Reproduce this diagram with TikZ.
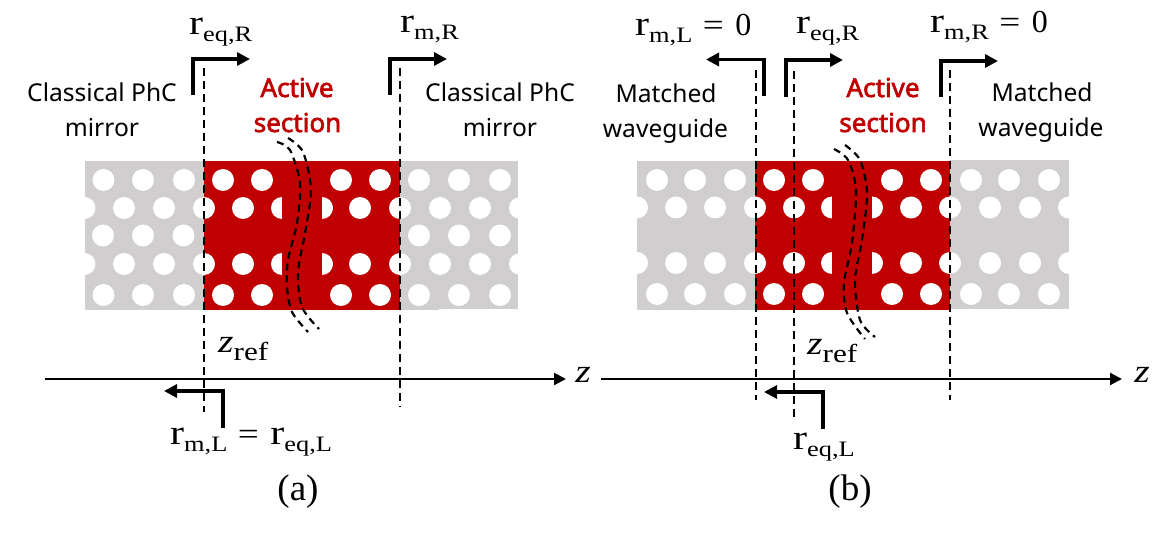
\documentclass[tikz,border=0pt]{standalone}
\usepackage{fontspec}
\setmainfont{Liberation Serif}
\newfontfamily\lblf{Noto Sans}
\newfontfamily\actf[FakeBold=2.4]{Noto Sans}
\newfontfamily\mathf[FakeStretch=1.2]{Liberation Serif}
\usetikzlibrary{arrows.meta}
\definecolor{phcgrey}{HTML}{D0CECE}
\definecolor{phcred}{HTML}{C00000}
\newcommand{\rsym}[1]{{\mathf\fontsize{35}{35}\selectfont r\raisebox{-7pt}{\fontsize{22}{22}\selectfont #1}}}
\newcommand{\eqs}{{\mathf\fontsize{31}{31}\selectfont\hspace{10.5pt}=\hspace{11.5pt}}}
\newcommand{\zero}{{\fontsize{32}{32}\selectfont 0}}
\newcommand{\zsym}{{\mathf\fontsize{33}{33}\selectfont\itshape z}}
\newcommand{\zref}{{\mathf\fontsize{33}{33}\selectfont\itshape z\upshape\raisebox{-8pt}{\fontsize{26}{26}\selectfont ref}}}
\tikzset{
  lbl/.style={inner sep=0pt,anchor=base west},
  sans/.style={inner sep=0pt,anchor=base,font=\lblf\fontsize{24.6}{24.6}\selectfont},
  act/.style={inner sep=0pt,anchor=base,text=phcred,font=\actf\fontsize{26}{26}\selectfont},
  captxt/.style={inner sep=0pt,anchor=base,font=\fontsize{37}{37}\selectfont},
  vdash/.style={line width=2.3pt,dash pattern=on 8pt off 5pt},
  wavy/.style={line width=2.2pt,dash pattern=on 7pt off 5pt},
  elbow/.style={line width=3.5pt,-{Triangle[length=13pt,width=13pt]}},
  axisline/.style={line width=2.2pt,-{Triangle[length=12pt,width=12pt]}},
  hole/.style={fill=white,draw=none}
}
\begin{document}
\begin{tikzpicture}[x=1pt,y=-1pt]
\useasboundingbox (0,0) rectangle (1159,534);
% panel (a) slab
\fill[phcgrey] (85,161) rectangle (204,310);
\fill[phcgrey] (400,161) rectangle (518,309);
\fill[phcgrey] (400,309) rectangle (439,310);
\fill[phcred] (204,161) rectangle (400,310);
\foreach \y in {180,295}{\foreach \x in {103.5,143,184,223,262,341,380,419,459,500}{\fill[hole] (\x,\y) circle (11);}}
\foreach \y in {208,264}{\foreach \x in {84.5,124,164,204,243,282,322,360,400,440,480,520}{\fill[hole] (\x,\y) circle (11);}}
\foreach \x in {103,143,183.5,419,459,500}{\fill[hole] (\x,235.5) circle (11);}
\fill[phcred] (282,190) rectangle (322,280);
% panel (b) slab
\fill[phcgrey] (637,161) rectangle (755,310);
\fill[phcgrey] (950,160) rectangle (1069,309);
\fill[phcred] (755,161) rectangle (950,310);
\foreach \y in {180,294}{\foreach \x in {657,695,735,774,813,892,931,971,1009,1049}{\fill[hole] (\x,\y) circle (11);}}
\foreach \y in {207.5,263}{\foreach \x in {637,676,715,755,794,832,872,911,950,990,1030,1069}{\fill[hole] (\x,\y) circle (11);}}
\fill[phcred] (832,190) rectangle (872,280);
% wavy break marks
\draw[wavy] plot[smooth] coordinates {(277,142) (290,150) (300,183) (297,223) (288,260) (287,287) (292,312) (308,332)};
\draw[wavy] plot[smooth] coordinates {(288,138) (303,152) (311,190) (305,233) (298,273) (302,307) (319,329)};
\draw[wavy] plot[smooth] coordinates {(834,149) (848,160) (856,190) (852,243) (844,283) (847,313) (865,339)};
\draw[wavy] plot[smooth] coordinates {(845,145) (860,160) (867,193) (862,240) (855,280) (860,320) (875,337)};
% coordinates
\coordinate (axAs) at (45,379);   \coordinate (axAe) at (566,379);
\coordinate (axBs) at (601,379);  \coordinate (axBe) at (1122,379);
\coordinate (d1t) at (204,68);  \coordinate (d1b) at (204,412);
\coordinate (d2t) at (400,68);  \coordinate (d2b) at (400,407);
\coordinate (d3t) at (756,70);  \coordinate (d3b) at (756,400);
\coordinate (d4t) at (794,71);  \coordinate (d4b) at (794,421);
\coordinate (d5t) at (950,70);  \coordinate (d5b) at (950,400);
\coordinate (e1s) at (193,95);  \coordinate (e1c) at (193,59);   \coordinate (e1e) at (250,59);
\coordinate (e2s) at (390,95);  \coordinate (e2c) at (390,59);   \coordinate (e2e) at (447,59);
\coordinate (e3s) at (764,96);  \coordinate (e3c) at (764,59.5); \coordinate (e3e) at (706,59.5);
\coordinate (e4s) at (786,97);  \coordinate (e4c) at (786,60);   \coordinate (e4e) at (843,60);
\coordinate (e5s) at (941,97);  \coordinate (e5c) at (941,61);   \coordinate (e5e) at (998,61);
\coordinate (e6s) at (223,428); \coordinate (e6c) at (223,391);  \coordinate (e6e) at (164,391);
\coordinate (e7s) at (823,429); \coordinate (e7c) at (823,392);  \coordinate (e7e) at (764,392);
% axes
\draw[axisline] (axAs) -- (axAe);
\draw[axisline] (axBs) -- (axBe);
% reference planes
\foreach \n in {1,...,5}{\draw[vdash] (d\n t) -- (d\n b);}
% elbow arrows
\foreach \n in {1,...,7}{\draw[elbow] (e\n s) -- (e\n c) -- (e\n e);}
% labels (a)
\node[lbl] (reqRa) at (189,35) {\rsym{eq,R}};
\node[lbl] (rmRa) at (400,33) {\rsym{m,R}};
\node[lbl] (rmLa) at (170,444) {\rsym{m,L}\eqs\rsym{eq,L}};
\node[lbl] (zrefa) at (218,353) {\zref};
\node[sans] (cl1) at (102,102) {Classical PhC};
\node[sans] (mi1) at (102,137) {mirror};
\node[sans] (cl2) at (500,102) {Classical PhC};
\node[sans] (mi2) at (500,137) {mirror};
\node[act] (ac1) at (297,97) {Active};
\node[act] (se1) at (297.5,132) {section};
\node[captxt] (capa) at (298,500) {(a)};
\node[inner sep=0pt,anchor=base] (za) at (583,383) {\zsym};
% labels (b)
\node[lbl] (rmLb) at (635,36) {\rsym{m,L}\eqs\zero};
\node[lbl] (reqRb) at (796,34) {\rsym{eq,R}};
\node[lbl] (rmRb) at (930,33) {\rsym{m,R}\eqs\zero};
\node[lbl] (reqLb) at (793,449) {\rsym{eq,L}};
\node[lbl] (zrefb) at (807,355) {\zref};
\node[sans] (ma1) at (666,103) {Matched};
\node[sans] (wg1) at (665.5,138) {waveguide};
\node[sans] (ma2) at (1042,102) {Matched};
\node[sans] (wg2) at (1041,137) {waveguide};
\node[act] (ac2) at (883,97) {Active};
\node[act] (se2) at (883,132) {section};
\node[captxt] (capb) at (850,500) {(b)};
\node[inner sep=0pt,anchor=base] (zb) at (1142,383) {\zsym};
\end{tikzpicture}
\end{document}
